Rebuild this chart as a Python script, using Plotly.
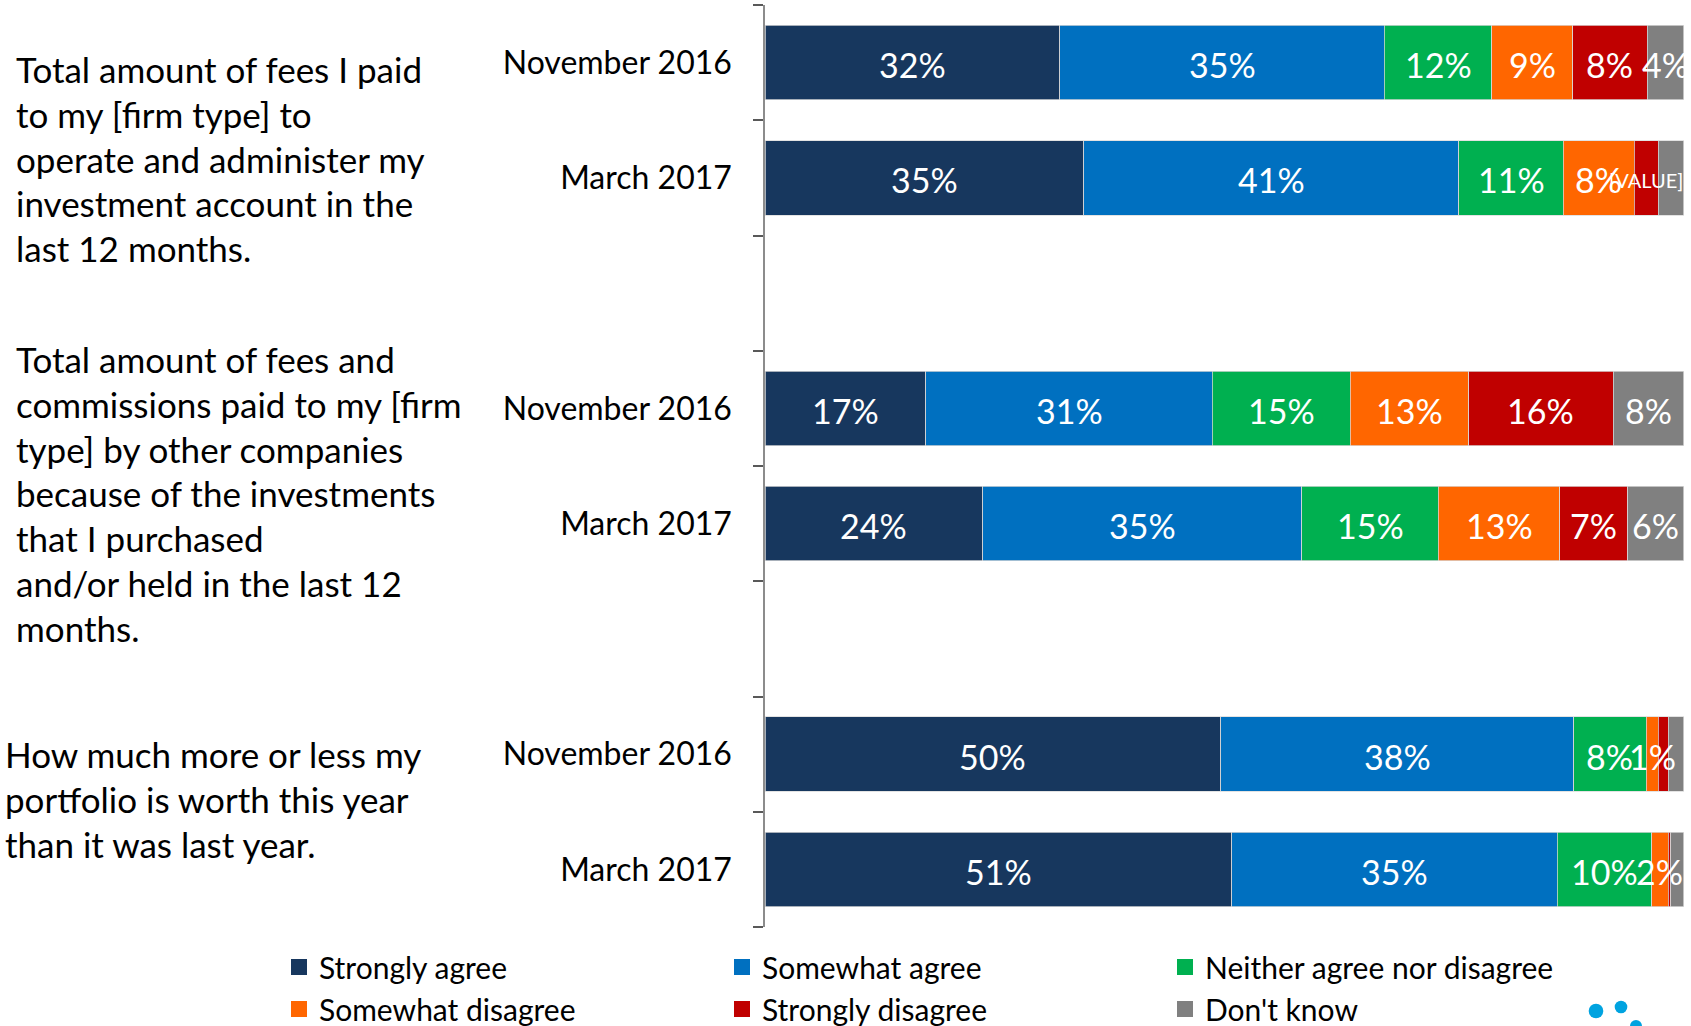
import plotly.graph_objects as go

# ---------------- data ----------------
row_keys = ["g1_nov", "g1_mar", "gap1", "g2_nov", "g2_mar", "gap2", "g3_nov", "g3_mar"]
row_labels = ["November 2016", "March 2017", "", "November 2016", "March 2017", "", "November 2016", "March 2017"]
bar_rows = ["g1_nov", "g1_mar", "g2_nov", "g2_mar", "g3_nov", "g3_mar"]

series_names = ["Strongly agree", "Somewhat agree", "Neither agree nor disagree",
                "Somewhat disagree", "Strongly disagree", "Don't know"]
series_colors = ["#17375E", "#0070C0", "#00B050", "#FF6600", "#C00000", "#808080"]

strongly_agree = [32.1, 34.7, 17.5, 23.7, 49.6, 50.8]
somewhat_agree = [35.3, 40.8, 31.2, 34.7, 38.4, 35.4]
neither = [11.7, 11.4, 15.0, 14.9, 7.9, 10.3]
somewhat_disagree = [8.8, 7.7, 12.9, 13.2, 1.3, 1.8]
strongly_disagree = [8.1, 2.6, 15.7, 7.4, 1.1, 0.3]
dont_know = [4.0, 2.8, 7.7, 6.1, 1.7, 1.4]

lab_strongly_agree = ["32%", "35%", "17%", "24%", "50%", "51%"]
lab_somewhat_agree = ["35%", "41%", "31%", "35%", "38%", "35%"]
lab_neither = ["12%", "11%", "15%", "15%", "8%", "10%"]
lab_somewhat_disagree = ["9%", "8%", "13%", "13%", "1%", "2%"]
lab_strongly_disagree = ["8%", "[VALUE]", "16%", "7%", "", ""]
lab_dont_know = ["4%", "", "8%", "6%", "", ""]

group_texts = [
    ["Total amount of fees I paid", "to my [firm type] to", "operate and administer my",
     "investment account in the", "last 12 months."],
    ["Total amount of fees and", "commissions paid to my [firm", "type] by other companies",
     "because of the investments", "that I purchased", "and/or held in the last 12", "months."],
    ["How much more or less my", "portfolio is worth this year", "than it was last year."],
]

values = [strongly_agree, somewhat_agree, neither, somewhat_disagree, strongly_disagree, dont_know]
labels = [lab_strongly_agree, lab_somewhat_agree, lab_neither, lab_somewhat_disagree,
          lab_strongly_disagree, lab_dont_know]

# ---------------- layout geometry (pixels) ----------------
W, H = 1691, 1026
L, R, T, B = 765, 1684, 5, 927
FONT = "Lato"

def px(x):
    return (x - L) / (R - L)

def py(y):
    return (B - y) / (B - T)

fig = go.Figure()

# stacked bars
for name, color, vals in zip(series_names, series_colors, values):
    fig.add_trace(go.Bar(
        x=vals, y=bar_rows, orientation="h", name=name,
        marker=dict(color=color, line=dict(color="#D9D9D9", width=0.75)),
        showlegend=False, hoverinfo="x+y+name",
    ))

# legend entries (square swatches)
for name, color in zip(series_names, series_colors):
    fig.add_trace(go.Scatter(
        x=[None], y=[None], mode="markers", name=name,
        marker=dict(symbol="square", size=18, color=color, line=dict(width=0)),
        showlegend=True, hoverinfo="skip",
    ))

annotations = []

# data labels drawn on top of all bars (midpoint of each stacked segment)
starts = [0.0] * len(bar_rows)
for vals, labs in zip(values, labels):
    for i, (v, t) in enumerate(zip(vals, labs)):
        if t:
            annotations.append(dict(
                text=t, xref="x", yref="y", x=starts[i] + v / 2.0, y=bar_rows[i],
                xanchor="center", yanchor="middle", showarrow=False, yshift=-2,
                font=dict(family=FONT, size=20 if t == "[VALUE]" else 34, color="white"),
            ))
        starts[i] += v

group_first_line = [69, 359, 754]
group_x = [14, 14, 3]
line_step = 44.8
for lines, y0, x0 in zip(group_texts, group_first_line, group_x):
    for i, line in enumerate(lines):
        annotations.append(dict(
            text=line, xref="paper", yref="paper", x=px(x0), y=py(y0 + i * line_step),
            xanchor="left", yanchor="middle", showarrow=False,
            font=dict(family=FONT, size=35, color="black"),
        ))

shapes = []
logo_dots = [(1596, 1011, 7.3), (1621, 1007, 6.3), (1636, 1026, 6.0)]
for cx, cy, r in logo_dots:
    shapes.append(dict(type="circle", xref="paper", yref="paper",
                       x0=px(cx - r), x1=px(cx + r), y0=py(cy + r), y1=py(cy - r),
                       fillcolor="#00A3E0", line=dict(width=0), layer="above"))

fig.update_layout(
    width=W, height=H, autosize=False,
    margin=dict(l=L, r=W - R, t=T, b=H - B, pad=0, autoexpand=False),
    barmode="stack", bargap=0.355,
    paper_bgcolor="white", plot_bgcolor="white",
    font=dict(family=FONT, color="black"),
    xaxis=dict(range=[0, 100.02], visible=False, fixedrange=True),
    yaxis=dict(
        type="category", categoryorder="array", categoryarray=row_keys,
        tickmode="array", tickvals=row_keys, ticktext=row_labels,
        range=[len(row_keys) - 0.5, -0.5],
        showline=True, linecolor="#8C8C8C", linewidth=1.5,
        ticks="outside", tickson="boundaries", ticklen=10, tickcolor="#595959", tickwidth=1.5,
        showgrid=False, zeroline=False, fixedrange=True,
        tickfont=dict(family=FONT, size=32, color="black"),
        ticklabelstandoff=25,
    ),
    legend=dict(
        orientation="h", x=px(279), y=py(941), xanchor="left", yanchor="top",
        entrywidth=398, entrywidthmode="pixels", itemsizing="trace",
        font=dict(family=FONT, size=30, color="black"),
        traceorder="normal", bgcolor="rgba(0,0,0,0)", itemwidth=30,
    ),
    annotations=annotations,
    shapes=shapes,
    showlegend=True,
)

fig.write_html(
    "out.html",
    config={"displayModeBar": False},
    post_script="document.body.style.margin='0';document.body.style.padding='0';"
                "document.body.style.overflow='hidden';",
)
